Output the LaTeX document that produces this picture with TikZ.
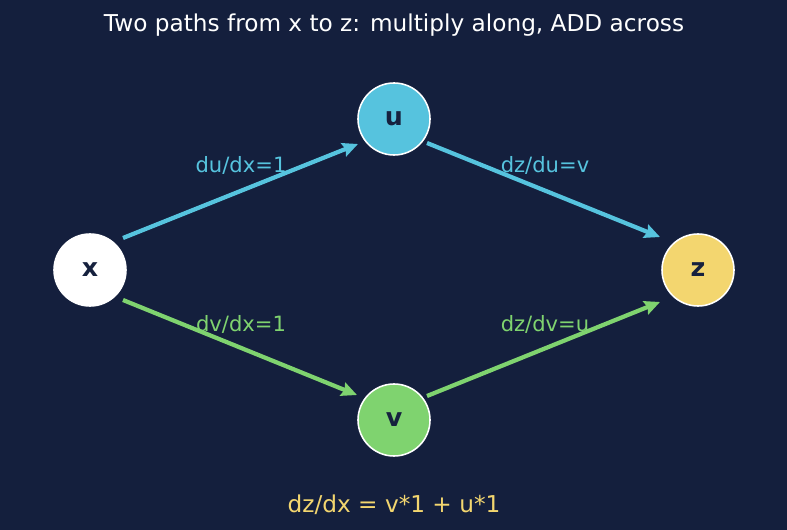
\documentclass[tikz,border=0pt]{standalone}
\usepackage{fontspec}
\setmainfont{DejaVu Sans}
\usepackage{xcolor}
\usetikzlibrary{calc, arrows.meta}

\definecolor{bg}{HTML}{141F3D}
\definecolor{ink}{HTML}{16213E}
\definecolor{cyanpath}{HTML}{56C3DE}
\definecolor{greenpath}{HTML}{7FD36F}
\definecolor{gold}{HTML}{F3D66F}

\begin{document}
\begin{tikzpicture}[x=0.025cm, y=-0.025cm,
	var/.style = {circle, draw=white, line width=1.1pt, minimum size=1.8cm, inner sep=0pt,
		text=ink, font=\bfseries\fontsize{18}{20}\selectfont},
	edge/.style = {line width=3pt, -{Stealth[length=11pt, width=10pt, inset=1.5pt]}},
	lbl/.style = {font=\fontsize{15}{17}\selectfont}]
	\fill [bg] (0,0) rectangle (787,530);
	\useasboundingbox (0,0) rectangle (787,530);

	\node [white, font=\fontsize{16.5}{19}\selectfont] (title) at (394,25) {Two paths from x to z: multiply along, ADD across};

	\node [var, fill=white] (x) at (90,270) {x};
	\node [var, fill=cyanpath] (u) at (394,119) {u};
	\node [var, fill=greenpath] (v) at (394,420) {v};
	\node [var, fill=gold] (z) at (698,270) {z};

	% upper path
	\draw [edge, cyanpath] ($(x)+(33,-32)$) -- ($(u)+(-36,25)$);
	\draw [edge, cyanpath] ($(u)+(33,24)$) -- ($(z)+(-38,-33)$);
	\node [lbl, cyanpath] (dudx) at (241,165) {du/dx=1};
	\node [lbl, cyanpath] (dzdu) at (545,165) {dz/du=v};

	% lower path
	\draw [edge, greenpath] ($(x)+(33,30)$) -- ($(v)+(-37,-25)$);
	\draw [edge, greenpath] ($(v)+(33,-24)$) -- ($(z)+(-38,32)$);
	\node [lbl, greenpath] (dvdx) at (241,324) {dv/dx=1};
	\node [lbl, greenpath] (dzdv) at (545,324) {dz/dv=u};

	\node [gold, font=\fontsize{16.5}{19}\selectfont] (total) at (394,505) {dz/dx = v*1 + u*1};
\end{tikzpicture}
\end{document}
